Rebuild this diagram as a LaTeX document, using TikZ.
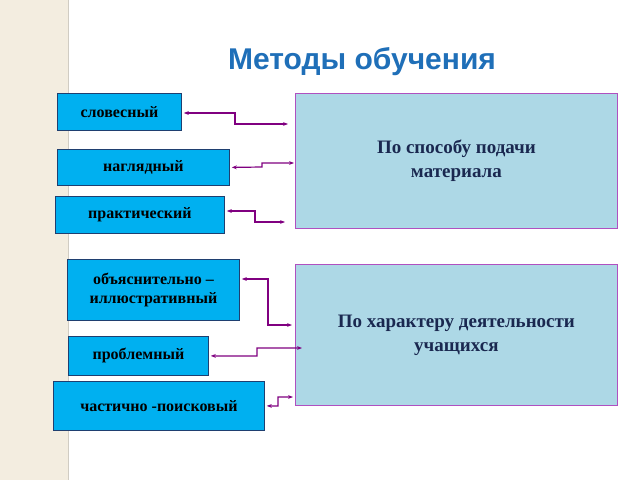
\documentclass[tikz,border=0pt]{standalone}
\usepackage{fontspec}
\setmainfont{Liberation Serif}
\newfontfamily\titlefont{Liberation Sans}
\usetikzlibrary{arrows.meta}
\definecolor{titleblue}{HTML}{1F6FB8}
\definecolor{boxcyan}{HTML}{00B0F0}
\definecolor{boxedge}{HTML}{1F3F70}
\definecolor{panel}{HTML}{ADD8E6}
\definecolor{paneledge}{HTML}{B050C0}
\definecolor{link}{HTML}{800080}
\definecolor{navy}{HTML}{1A2850}
\definecolor{stripe}{HTML}{F3EDE0}
\tikzset{
  method/.style={draw=boxedge, fill=boxcyan, line width=0.8pt, anchor=north west,
    inner sep=0pt, align=center, font=\bfseries\fontsize{16}{19}\selectfont},
  group/.style={draw=paneledge, fill=panel, line width=0.8pt, anchor=north west,
    inner sep=0pt, align=center, text=navy, font=\bfseries\fontsize{19}{24}\selectfont},
  link/.style={draw=link, line width=1.2pt, {Stealth[length=5pt]}-{Stealth[length=5pt]}}
}
\begin{document}
\begin{tikzpicture}[x=1pt,y=-1pt]
\useasboundingbox (0,0) rectangle (640,480);
\fill[stripe] (0,0) rectangle (68,480);
\draw[stripe!70!gray] (68,0) -- (68,480);

\node (title) at (362,62) {\titlefont\bfseries\fontsize{30}{36}\selectfont\color{titleblue}Методы обучения};

% groups
\node[group, minimum width=322pt, minimum height=135pt] (feed) at (295,93) {По способу подачи\\материала};
\node[group, minimum width=322pt, minimum height=141pt] (act) at (295,264) {По характеру деятельности\\учащихся};

% methods
\node[method, minimum width=124pt, minimum height=37pt] (verb) at (57,93) {словесный};
\node[method, minimum width=172pt, minimum height=36pt] (vis) at (57,149) {наглядный};
\node[method, minimum width=169pt, minimum height=37pt] (prac) at (55,196) {практический};
\node[method, minimum width=172pt, minimum height=61pt] (expl) at (67,259) {объяснительно –\\иллюстративный};
\node[method, minimum width=140pt, minimum height=39pt] (prob) at (68,336) {проблемный};
\node[method, minimum width=211pt, minimum height=49pt] (part) at (53,381) {частично -поисковый};

% free ends near the groups
\coordinate (f1) at (288,124);
\coordinate (f2) at (294,163);
\coordinate (f3) at (285,222);
\coordinate (a1) at (292,325);
\coordinate (a2) at (302,348);
\coordinate (a3) at (293,397);

\draw[link] ([xshift=2pt]verb.east |- 0,113) -- (235,113) |- (f1);
\draw[link] ([xshift=2pt]vis.east) -- (262,167) |- (f2);
\draw[link] ([xshift=2pt]prac.east |- 0,211) -- (255,211) |- (f3);
\draw[link] ([xshift=2pt]expl.east |- 0,279) -- (268,279) |- (a1);
\draw[link] ([xshift=2pt]prob.east) -- (257,356) |- (a2);
\draw[link] ([xshift=2pt]part.east) -- (278,406) |- (a3);
\end{tikzpicture}
\end{document}
